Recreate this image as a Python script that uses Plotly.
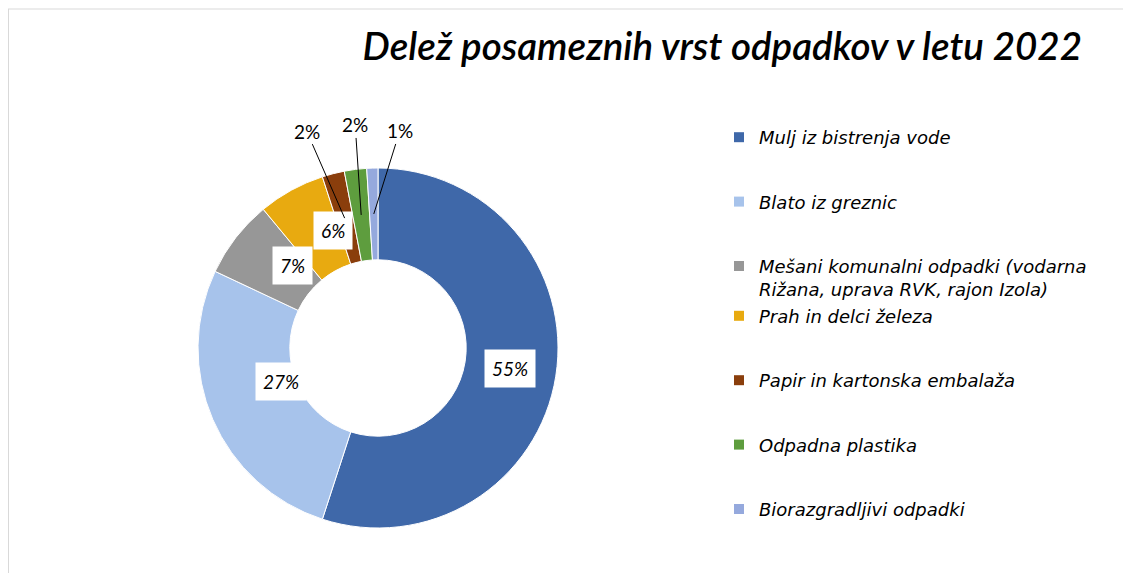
import numpy as np
import plotly.graph_objects as go

categories = [
    "Mulj iz bistrenja vode",
    "Blato iz greznic",
    "Mešani komunalni odpadki (vodarna<br>Rižana, uprava RVK, rajon Izola)",
    "Prah in delci železa",
    "Papir in kartonska embalaža",
    "Odpadna plastika",
    "Biorazgradljivi odpadki",
]
values = [55, 27, 7, 6, 2, 2, 1]
colors = ["#3F68A9", "#A7C3EB", "#979797", "#E8AA10", "#8A3E0C", "#5E9D3E", "#95A9DD"]
label_texts = ["55%", "27%", "7%", "6%", "2%", "2%", "1%"]
legend_groups = ["g1", "g2", "g3", "g3", "g5", "g6", "g7"]
title_text = "Delež posameznih vrst odpadkov v letu 2022"

# figure size (page has an 8px body margin)
W, H = 1123, 565
CX, CY, R = 370, 340, 180          # pie centre / radius in figure pixels
dom_x = [(CX - R) / W, (CX + R) / W]
dom_y = [(H - CY - R) / H, (H - CY + R) / H]
hole = 0.49

fig = go.Figure()
fig.add_trace(go.Pie(
    labels=[c.replace("<br>", " ") for c in categories],
    values=values,
    sort=False,
    direction="clockwise",
    rotation=0,
    hole=hole,
    marker=dict(colors=colors, line=dict(color="white", width=1)),
    textinfo="none",
    hoverinfo="label+percent",
    showlegend=False,
    domain=dict(x=dom_x, y=dom_y),
))

# legend entries (one per category, same colours)
for c, col, g in zip(categories, colors, legend_groups):
    fig.add_trace(go.Scatter(
        x=[None], y=[None], mode="markers", name=c, legendgroup=g,
        marker=dict(symbol="square", size=10, color=col),
        hoverinfo="skip",
    ))

# data labels placed from the data
total = sum(values)
cum = np.cumsum(values) - np.array(values) / 2
theta = 2 * np.pi * cum / total
r_mid = R * (1 + hole) / 2
cxp = (dom_x[0] + dom_x[1]) / 2
cyp = (dom_y[0] + dom_y[1]) / 2
in_font = dict(family="Lato", size=19, color="black", style="italic")
out_font = dict(family="Lato", size=19, color="black")
outside_offsets = {4: (-38, -87), 5: (-6, -90), 6: (26, -83)}
for i, (t, txt) in enumerate(zip(theta, label_texts)):
    px = cxp + r_mid * np.sin(t) / W
    py = cyp + r_mid * np.cos(t) / H
    if i in outside_offsets:
        ax, ay = outside_offsets[i]
        fig.add_annotation(x=px, y=py, xref="paper", yref="paper", text=txt,
                           showarrow=True, arrowhead=0, arrowwidth=1, arrowcolor="black",
                           ax=ax, ay=ay, standoff=0, font=out_font)
    else:
        fig.add_annotation(x=px, y=py, xref="paper", yref="paper", text=txt,
                           showarrow=False, bgcolor="white", borderpad=7, font=in_font)

# chart-area border (top and left visible)
fig.add_shape(type="line", xref="paper", yref="paper", x0=0, x1=1.01, y0=1 - 1 / H, y1=1 - 1 / H,
              line=dict(color="#D9D9D9", width=1))
fig.add_shape(type="line", xref="paper", yref="paper", x0=0.5 / W, x1=0.5 / W, y0=-0.01, y1=1 - 1 / H,
              line=dict(color="#D9D9D9", width=1))

fig.update_layout(
    width=W, height=H,
    margin=dict(l=0, r=0, t=0, b=0),
    paper_bgcolor="white",
    plot_bgcolor="white",
    xaxis=dict(visible=False),
    yaxis=dict(visible=False),
    title=dict(text=title_text, x=1074 / W, xanchor="right", y=1 - 39 / H, yanchor="middle",
               font=dict(family="Lato", size=38.5, color="black", style="italic", weight=600)),
    legend=dict(x=711 / W, y=1 - 111 / H, xanchor="left", yanchor="top", valign="top",
                traceorder="grouped", tracegroupgap=38,
                font=dict(family="DejaVu Sans", size=18, color="black", style="italic"),
                bgcolor="rgba(0,0,0,0)"),
    showlegend=True,
)

fig.write_html("out.html")
